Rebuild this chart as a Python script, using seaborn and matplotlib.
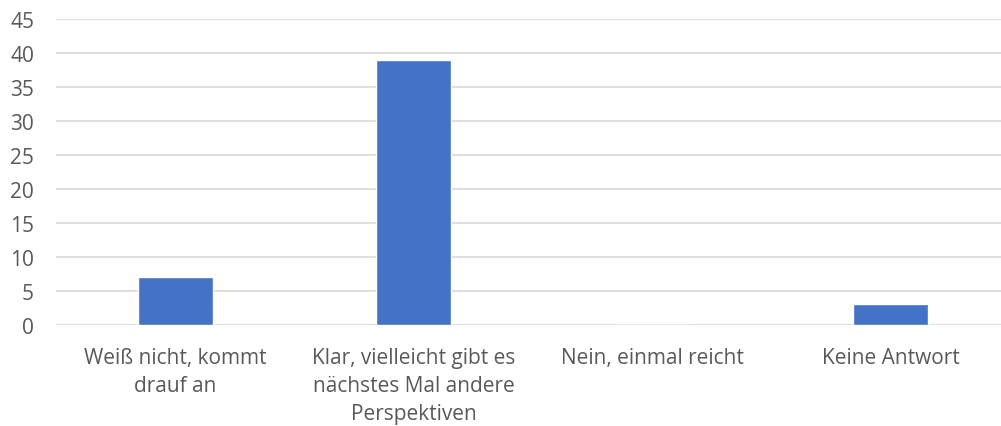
import pandas as pd
import seaborn as sns
import matplotlib.pyplot as plt

# Daten aus dem Diagramm
kategorien = ['Weiß nicht, kommt\ndrauf an',
              'Klar, vielleicht gibt es\nnächstes Mal andere\nPerspektiven',
              'Nein, einmal reicht',
              'Keine Antwort']
anzahl = [7, 39, 0, 3]

df = pd.DataFrame({'kategorie': kategorien, 'anzahl': anzahl})

sns.set_style('white')
plt.rcParams['font.family'] = ['Open Sans', 'DejaVu Sans']

fig = plt.figure(figsize=(10.01, 4.27), dpi=100)
# Achse reicht rechts etwas über den Bildrand hinaus (wie im Original)
ax = fig.add_axes([56.3 / 1001, 1 - 325.7 / 427, 953.3 / 1001, 305.7 / 427])

sns.barplot(data=df, x='kategorie', y='anzahl', color='#4472C4',
            width=0.315, saturation=1, ax=ax, zorder=3)

ax.set_ylim(0, 45)
ax.set_yticks(range(0, 50, 5))
ax.yaxis.grid(True, color='#D9D9D9', linewidth=1.2, zorder=0)
ax.set_axisbelow(True)
for s in ax.spines.values():
    s.set_visible(False)
ax.tick_params(axis='both', length=0, labelsize=15, colors='#595959')
ax.tick_params(axis='x', pad=16)
ax.tick_params(axis='y', pad=16)
ax.set_xlabel('')
ax.set_ylabel('')
for lbl in ax.get_xticklabels():
    lbl.set_linespacing(1.45)

plt.savefig('out.png', dpi=100)
